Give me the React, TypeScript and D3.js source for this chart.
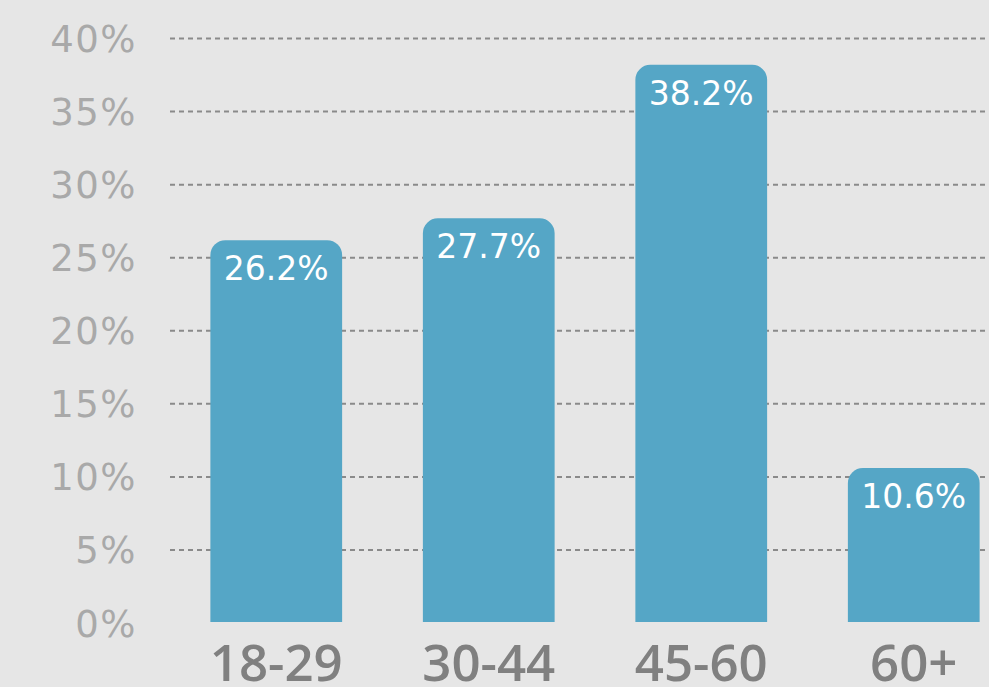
import React from "react";
import * as d3 from "d3";

const categories = ["18-29", "30-44", "45-60", "60+"];
const values = [26.2, 27.7, 38.2, 10.6];
const yTicks = [0, 5, 10, 15, 20, 25, 30, 35, 40];

const W = 989;
const H = 687;
const FONT = "'Open Sans', 'DejaVu Sans', sans-serif";
const WIDE = "'DejaVu Sans', 'Open Sans', sans-serif";

export default function App() {
  const y = d3.scaleLinear().domain([0, 40]).range([623, 38.5]);
  const x = d3
    .scaleBand<string>()
    .domain(categories)
    .range([170, 1020])
    .paddingInner(0.38)
    .paddingOuter(0.19);
  const r = 15;
  const barPath = (cat: string, v: number) => {
    const x0 = x(cat)!;
    const x1 = x0 + x.bandwidth();
    const yt = y(v);
    const yb = y(0) - 1;
    return `M${x0},${yb}L${x0},${yt + r}A${r},${r} 0 0 1 ${x0 + r},${yt}L${x1 - r},${yt}A${r},${r} 0 0 1 ${x1},${yt + r}L${x1},${yb}Z`;
  };
  return (
    <svg
      width={W}
      height={H}
      style={{ position: "absolute", left: 0, top: 0, display: "block" }}
    >
      <rect x={0} y={0} width={W} height={H} fill="#e6e6e6" />
      {yTicks.map((t) => (
        <g key={t}>
          {t > 0 && (
            <line
              x1={170}
              x2={W}
              y1={y(t)}
              y2={y(t)}
              stroke="#8a8a8a"
              strokeWidth={2}
              strokeDasharray="5 4"
            />
          )}
          <text
            x={137}
            y={y(t) + 13.5}
            textAnchor="end"
            fontFamily={WIDE}
            fontSize={37}
            letterSpacing={1.5}
            fill="#a9a9a9"
          >
            {t}%
          </text>
        </g>
      ))}
      {categories.map((c, i) => (
        <g key={c}>
          <path d={barPath(c, values[i])} fill="#55a6c6" />
          <text
            x={x(c)! + x.bandwidth() / 2}
            y={y(values[i]) + 40}
            textAnchor="middle"
            fontFamily={WIDE}
            fontSize={33}
            fill="#ffffff"
          >
            {values[i].toFixed(1)}%
          </text>
          <text
            x={x(c)! + x.bandwidth() / 2}
            y={681}
            textAnchor="middle"
            fontFamily={FONT}
            fontWeight={600}
            fontSize={51}
            fill="#808080"
          >
            {c}
          </text>
        </g>
      ))}
    </svg>
  );
}
